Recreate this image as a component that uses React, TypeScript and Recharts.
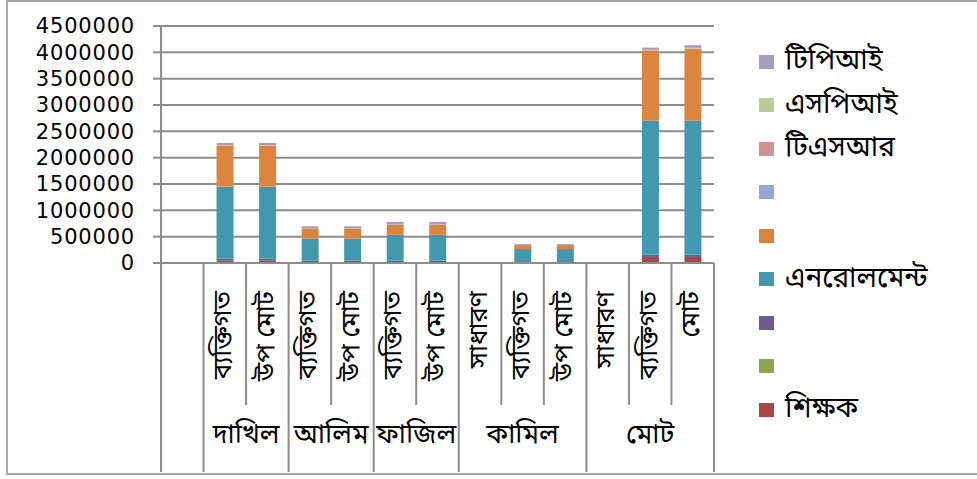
import React from "react";
import {
  BarChart,
  Bar,
  XAxis,
  YAxis,
  CartesianGrid,
  Legend,
} from "recharts";

const categories = [
  "",
  "ব্যক্তিগত",
  "উপ মোট",
  "ব্যক্তিগত",
  "উপ মোট",
  "ব্যক্তিগত",
  "উপ মোট",
  "সাধারণ",
  "ব্যক্তিগত",
  "উপ মোট",
  "সাধারণ",
  "ব্যক্তিগত",
  "মোট",
];

// group label, index of first category, number of categories
const groups: [string, number, number][] = [
  ["", 0, 1],
  ["দাখিল", 1, 2],
  ["আলিম", 3, 2],
  ["ফাজিল", 5, 2],
  ["কামিল", 7, 3],
  ["মোট", 10, 3],
];

const yTicks = [0, 500000, 1000000, 1500000, 2000000, 2500000, 3000000, 3500000, 4000000, 4500000];

// series, bottom of the stack first
const shikkhok = [0, 50000, 50000, 5000, 5000, 5000, 5000, 0, 5000, 5000, 0, 115000, 115000];
const blankGreen = [0, 0, 0, 0, 0, 0, 0, 0, 0, 0, 0, 0, 0];
const blankPurple = [0, 30000, 30000, 40000, 40000, 40000, 40000, 0, 5000, 5000, 0, 40000, 40000];
const enrolment = [0, 1370000, 1370000, 420000, 420000, 490000, 490000, 0, 255000, 255000, 0, 2550000, 2550000];
const blankOrange = [0, 780000, 780000, 190000, 190000, 190000, 190000, 0, 75000, 75000, 0, 1325000, 1360000];
const blankBlue = [0, 0, 0, 0, 0, 0, 0, 0, 0, 0, 0, 0, 0];
const tsr = [0, 5000, 5000, 3000, 3000, 3000, 3000, 0, 2000, 2000, 0, 10000, 10000];
const spi = [0, 5000, 5000, 3000, 3000, 3000, 3000, 0, 2000, 2000, 0, 10000, 10000];
const tpi = [0, 40000, 40000, 35000, 35000, 50000, 50000, 0, 18000, 18000, 0, 40000, 50000];

const series = [
  { key: "s1", name: "শিক্ষক", color: "#AA4643", values: shikkhok },
  { key: "s2", name: "", color: "#89A54E", values: blankGreen },
  { key: "s3", name: "", color: "#71588F", values: blankPurple },
  { key: "s4", name: "এনরোলমেন্ট", color: "#4198AF", values: enrolment },
  { key: "s5", name: "", color: "#DB843D", values: blankOrange },
  { key: "s6", name: "", color: "#93A9CF", values: blankBlue },
  { key: "s7", name: "টিএসআর", color: "#D19392", values: tsr },
  { key: "s8", name: "এসপিআই", color: "#B9CD96", values: spi },
  { key: "s9", name: "টিপিআই", color: "#A99BBD", values: tpi },
];

const data = categories.map((c, i) => {
  const row: any = { id: i, label: c };
  series.forEach((s) => (row[s.key] = s.values[i]));
  return row;
});

const BN_FONT = "'Noto Sans Bengali', 'Lohit Bengali', 'Noto Serif Bengali', 'FreeSerif', 'Noto Sans', sans-serif";
const GRID = "#8c8c8c";
const PLOT_LEFT = 161;
const PLOT_RIGHT = 714;
const AXIS_Y = 263;
const BAND = (PLOT_RIGHT - PLOT_LEFT) / categories.length;

const CategoryTick = (props: any) => {
  const { x, index } = props;
  const left = x - BAND / 2;
  const group = groups.find((g) => g[1] === index);
  const last = index === categories.length - 1;
  return (
    <g>
      <line
        x1={left}
        x2={left}
        y1={AXIS_Y}
        y2={group ? 472 : 405}
        stroke={GRID}
        strokeWidth={2}
      />
      {last && (
        <line x1={left + BAND} x2={left + BAND} y1={AXIS_Y} y2={472} stroke={GRID} strokeWidth={2} />
      )}
      <text
        transform={`translate(${x}, 291) rotate(-90)`}
        textAnchor="end"
        dominantBaseline="central"
        fontFamily={BN_FONT}
        fontSize={26}
        fill="#000"
      >
        {categories[index]}
      </text>
      {group && group[0] && (
        <text
          x={left + (group[2] * BAND) / 2}
          y={436}
          textAnchor="middle"
          dominantBaseline="central"
          fontFamily={BN_FONT}
          fontSize={27}
          fill="#000"
        >
          {group[0]}
        </text>
      )}
    </g>
  );
};

const LegendBox = () => (
  <div>
    {[...series].reverse().map((s) => (
      <div
        key={s.key}
        style={{ height: 43.5, display: "flex", alignItems: "center" }}
      >
        <span
          style={{ width: 15, height: 14, background: s.color, display: "inline-block", flexShrink: 0 }}
        />
        <span
          style={{ marginLeft: 11, fontFamily: BN_FONT, fontSize: 28, color: "#000", whiteSpace: "nowrap" }}
        >
          {s.name}
        </span>
      </div>
    ))}
  </div>
);

export default function App() {
  return (
    <div style={{ position: "absolute", left: 0, top: 0, width: 977, height: 479, background: "#fff", overflow: "hidden" }}>
      <div
        style={{
          position: "absolute",
          left: 6,
          top: 0,
          width: 990,
          height: 471,
          border: "2px solid #a6a6a6",
        }}
      />
      <div style={{ position: "absolute", left: 0, top: 0 }}>
        <BarChart
          width={977}
          height={479}
          data={data}
          barSize={17}
          margin={{ top: 26, right: 977 - PLOT_RIGHT, left: 0, bottom: 0 }}
        >
          <CartesianGrid vertical={false} stroke={GRID} strokeWidth={2} />
          <XAxis
            dataKey="id"
            height={479 - AXIS_Y}
            interval={0}
            tickSize={0}
            tickMargin={0}
            axisLine={{ stroke: GRID, strokeWidth: 2 }}
            tickLine={false}
            tick={<CategoryTick />}
          />
          <YAxis
            width={PLOT_LEFT}
            domain={[0, 4500000]}
            ticks={yTicks}
            interval={0}
            tickSize={8}
            tickMargin={18}
            axisLine={{ stroke: GRID, strokeWidth: 2 }}
            tickLine={{ stroke: GRID, strokeWidth: 2 }}
            tick={{ fill: "#000", fontSize: 21, fontFamily: "DejaVu Sans", letterSpacing: 0.8 }}
          />
          <Legend
            layout="horizontal"
            align="center"
            verticalAlign="middle"
            content={<LegendBox />}
            wrapperStyle={{ left: 759, top: 40, width: 218, height: 400 }}
          />
          {series.map((s) => (
            <Bar
              key={s.key}
              dataKey={s.key}
              name={s.name}
              stackId="a"
              fill={s.color}
              isAnimationActive={false}
            />
          ))}
        </BarChart>
      </div>
    </div>
  );
}
